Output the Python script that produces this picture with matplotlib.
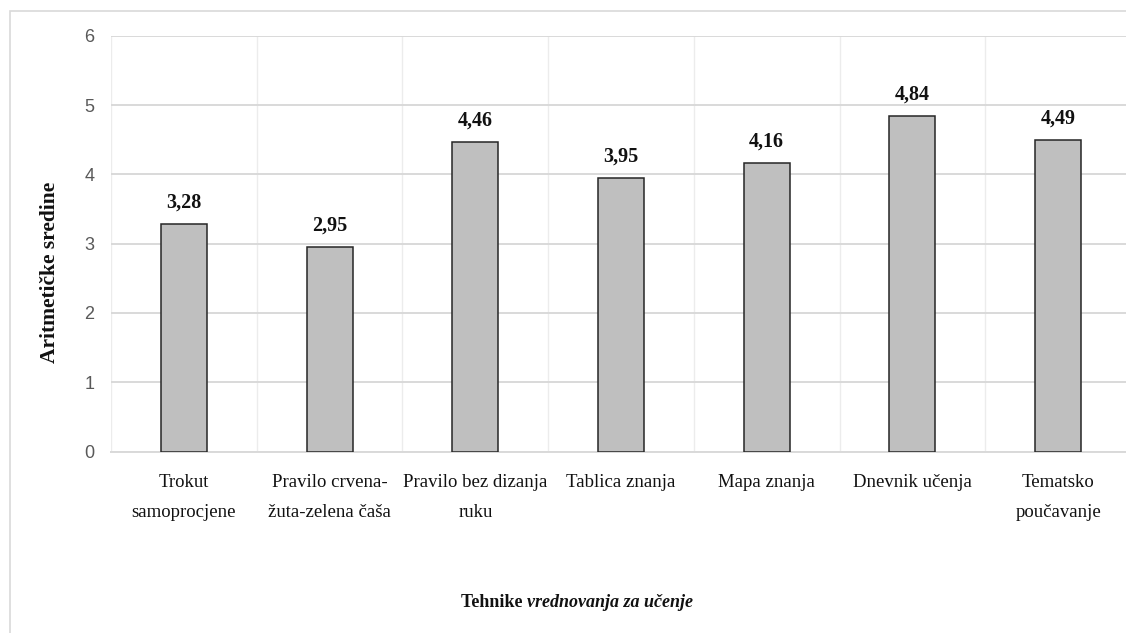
import numpy as np
import matplotlib
matplotlib.use('Agg')
import matplotlib.pyplot as plt
from matplotlib.patches import Rectangle


# mean scores per assessment technique
techniques = ['Trokut\nsamoprocjene', 'Pravilo crvena-\nžuta-zelena čaša',
              'Pravilo bez dizanja\nruku', 'Tablica znanja', 'Mapa znanja',
              'Dnevnik učenja', 'Tematsko\npoučavanje']
means = [3.28, 2.95, 4.46, 3.95, 4.16, 4.84, 4.49]
yticks = [0, 1, 2, 3, 4, 5, 6]

serif = ['Liberation Serif', 'DejaVu Serif']
narrow = ['Liberation Sans Narrow', 'Liberation Sans', 'DejaVu Sans']

W, H = 1126, 633
fig = plt.figure(figsize=(W / 100, H / 100), dpi=100)

# light frame around the chart area
fig.patches.append(Rectangle((10 / W, -0.1), 1.2, 1 - 11 / H + 0.1,
                             transform=fig.transFigure, fill=False,
                             edgecolor='#d9d9d9', linewidth=1.2))

ax = fig.add_axes([111 / W, 1 - 451.5 / H, 1020 / W, (451.5 - 35.7) / H])

x = np.arange(len(means))
bars = ax.bar(x, means, width=0.316, color='#bfbfbf', edgecolor='#262626',
              linewidth=1.1, zorder=3)

for xi, v in zip(x, means):
    ax.annotate(f'{v:.2f}'.replace('.', ','), (xi, v), xytext=(0, 12),
                textcoords='offset points', ha='center', va='baseline',
                family=serif, fontweight='bold', fontsize=14.5, color='#111111')

ax.set_xlim(-0.5, len(means) - 0.5)
ax.set_ylim(0, 6)
ax.set_yticks(yticks)
ax.set_yticklabels([str(t) for t in yticks], family=narrow, fontsize=13,
                   color='#595959')
ax.set_xticks(x)
ax.set_xticklabels(techniques, family=serif, fontsize=13.5, color='#111111',
                   linespacing=2.05)
ax.set_xticks(np.arange(-0.5, len(means)), minor=True)
ax.tick_params(axis='both', which='both', length=0)
ax.tick_params(axis='x', pad=16)
ax.tick_params(axis='y', pad=12)

ax.grid(axis='y', which='major', color='#d9d9d9', linewidth=1.4, zorder=0)
ax.grid(axis='x', which='minor', color='#ececec', linewidth=1.0, zorder=0)
for side in ['top', 'right', 'left']:
    ax.spines[side].set_visible(False)
ax.spines['bottom'].set_color('#d9d9d9')
ax.spines['bottom'].set_linewidth(1.4)

fig.text(50 / W, 1 - 272 / H, 'Aritmetičke sredine', rotation=90,
         ha='center', va='center', family=serif, fontweight='bold',
         fontsize=15.5, color='#111111')

t1 = fig.text(461 / W, 1 - 607 / H, 'Tehnike ', ha='left', va='baseline',
              family=serif, fontweight='bold', fontsize=13, color='#111111')
ax.annotate('vrednovanja za učenje', xy=(1, 0), xycoords=t1,
            ha='left', va='bottom', family=serif, fontweight='bold',
            fontstyle='italic', fontsize=13, color='#111111',
            annotation_clip=False)

fig.savefig('out.png', dpi=100)
